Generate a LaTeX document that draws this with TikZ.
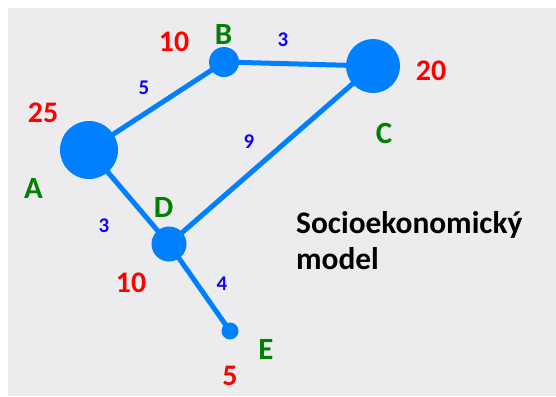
\documentclass[tikz,border=0pt]{standalone}
\usepackage{fontspec}
\setmainfont{Carlito}
\definecolor{bg}{RGB}{236,236,239}
\definecolor{nodeblue}{RGB}{0,128,255}
\definecolor{lblgreen}{RGB}{0,128,0}
\definecolor{lblred}{RGB}{255,0,0}
\definecolor{lblblue}{RGB}{20,0,255}
\begin{document}
\begin{tikzpicture}[x=1bp,y=-1bp,
  vertex/.style={circle,fill=nodeblue,inner sep=0pt,minimum size=#1},
  edge/.style={draw=nodeblue,line width=5bp},
  vname/.style={text=lblgreen,font=\fontsize{31}{36}\selectfont\bfseries,inner sep=0pt},
  vval/.style={text=lblred,font=\fontsize{30}{36}\selectfont\bfseries,inner sep=0pt},
  wt/.style={text=lblblue,font=\fontsize{21}{25}\selectfont\bfseries,inner sep=0pt},
  title/.style={text=black,font=\fontsize{31.5}{36}\selectfont\bfseries,inner sep=0pt,align=left}]
\fill[white] (0,0) rectangle (556,396);
\fill[bg] (8,8) rectangle (556,396);
\useasboundingbox (0,0) rectangle (556,396);
% vertex positions
\coordinate (pA) at (89,150);
\coordinate (pB) at (224,62);
\coordinate (pC) at (373,66);
\coordinate (pD) at (169,244);
\coordinate (pE) at (230,331);
% edges
\draw[edge] (pA) -- (pB);
\draw[edge] (pB) -- (pC);
\draw[edge] (pC) -- (pD);
\draw[edge] (pA) -- (pD);
\draw[edge] (pD) -- (pE);
% vertices
\node[vertex=58bp] (A) at (pA) {};
\node[vertex=30bp] (B) at (pB) {};
\node[vertex=54bp] (C) at (pC) {};
\node[vertex=35bp] (D) at (pD) {};
\node[vertex=17bp] (E) at (pE) {};
% names
\node[vname] (nA) at (33.5,188.5) {A};
\node[vname] (nB) at (223.5,34) {B};
\node[vname] (nC) at (384,133) {C};
\node[vname] (nD) at (163.5,207.5) {D};
\node[vname] (nE) at (266,349) {E};
% values
\node[vval] (vA) at (43,113) {25};
\node[vval] (vB) at (174,42) {10};
\node[vval] (vC) at (431,71) {20};
\node[vval] (vD) at (131,283) {10};
\node[vval] (vE) at (230,376) {5};
% weights
\node[wt] (wAB) at (144,88) {5};
\node[wt] (wBC) at (283,40) {3};
\node[wt] (wCD) at (249,142) {9};
\node[wt] (wAD) at (104,226) {3};
\node[wt] (wDE) at (222,284) {4};
% title
\node[title,anchor=north west] (T) at (296,211) {Socioekonomický\\model};
\end{tikzpicture}
\end{document}
